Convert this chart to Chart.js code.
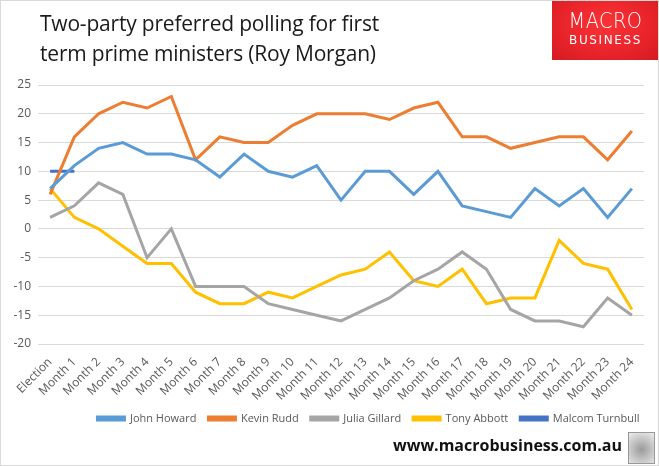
<!DOCTYPE html>
<html lang="en">
<head>
    <meta charset="UTF-8">
    <title>Two-party preferred polling</title>
    <style>
        html, body {
            margin: 0;
            padding: 0;
            background: #fff;
        }
        #frame {
            position: relative;
            width: 659px;
            height: 466px;
            box-sizing: border-box;
            border: 1px solid #d9d9d9;
            overflow: hidden;
            font-family: "Open Sans", "Noto Sans", sans-serif;
        }
        #chartBox {
            position: absolute;
            left: 0;
            top: 0;
            width: 657px;
            height: 464px;
        }
        .title {
            position: absolute;
            left: 39px;
            top: 7px;
            font-size: 21px;
            line-height: 30px;
            color: #1a1a1a;
            letter-spacing: -0.2px;
        }
        .logo {
            position: absolute;
            left: 551px;
            top: -1px;
            width: 107px;
            height: 60px;
            background: radial-gradient(ellipse at 50% 40%, #fb3336 0%, #e8232a 60%, #d41a22 100%);
            color: #fff;
            text-align: center;
            font-family: "DejaVu Sans", sans-serif;
        }
        .logo .big {
            position: absolute;
            left: 0; right: 0;
            top: 9px;
            font-size: 21px;
            font-weight: 300;
            letter-spacing: 0.5px;
            transform: scaleX(0.92);
        }
        .logo .small {
            position: absolute;
            left: 0; right: 0;
            top: 33px;
            font-size: 12px;
            letter-spacing: 1.6px;
        }
        .url {
            position: absolute;
            left: 392px;
            top: 433px;
            font-size: 16px;
            font-weight: bold;
            color: #111;
        }
        .wolf {
            position: absolute;
            left: 627px;
            top: 431px;
            width: 27px;
            height: 32px;
            box-sizing: border-box;
            border: 1px solid #999;
            background: radial-gradient(circle at 50% 55%, #9a9a9a 0%, #c8c8c8 55%, #eee 100%);
        }
    </style>
    <script src="https://cdn.jsdelivr.net/npm/chart.js"></script>
</head>
<body>
<div id="frame">
    <div id="chartBox"><canvas id="pollChart"></canvas></div>
    <div class="title">Two-party preferred polling for first<br>term prime ministers (Roy Morgan)</div>
    <div class="logo"><div class="big">MACRO</div><div class="small">BUSINESS</div></div>
    <div class="url">www.macrobusiness.com.au</div>
    <div class="wolf"></div>
</div>

<script>
    const labels = ['Election', 'Month 1', 'Month 2', 'Month 3', 'Month 4', 'Month 5', 'Month 6',
        'Month 7', 'Month 8', 'Month 9', 'Month 10', 'Month 11', 'Month 12', 'Month 13',
        'Month 14', 'Month 15', 'Month 16', 'Month 17', 'Month 18', 'Month 19', 'Month 20',
        'Month 21', 'Month 22', 'Month 23', 'Month 24'];

    const johnHoward = [7, 11, 14, 15, 13, 13, 12, 9, 13, 10, 9, 11, 5, 10, 10, 6, 10, 4, 3, 2, 7, 4, 7, 2, 7];
    const kevinRudd = [6, 16, 20, 22, 21, 23, 12, 16, 15, 15, 18, 20, 20, 20, 19, 21, 22, 16, 16, 14, 15, 16, 16, 12, 17];
    const juliaGillard = [2, 4, 8, 6, -5, 0, -10, -10, -10, -13, -14, -15, -16, -14, -12, -9, -7, -4, -7, -14, -16, -16, -17, -12, -15];
    const tonyAbbott = [7, 2, 0, -3, -6, -6, -11, -13, -13, -11, -12, -10, -8, -7, -4, -9, -10, -7, -13, -12, -12, -2, -6, -7, -14];
    const malcomTurnbull = [10, 10];

    const yTicks = { min: -20, max: 25, step: 5 };

    function series(label, data, color) {
        return {
            label: label,
            data: data,
            borderColor: color,
            backgroundColor: color,
            borderWidth: 3,
            pointRadius: 0,
            tension: 0,
            fill: false
        };
    }

    // nudge the legend right, the way the original sits off-centre
    const legendShift = {
        id: 'legendShift',
        afterLayout(chart) {
            chart.legend.left += 42;
            chart.legend.right += 42;
        }
    };

    const ctx = document.getElementById('pollChart').getContext('2d');
    new Chart(ctx, {
        type: 'line',
        data: {
            labels: labels,
            datasets: [
                series('John Howard', johnHoward, '#5B9BD5'),
                series('Kevin Rudd', kevinRudd, '#ED7D31'),
                series('Julia Gillard', juliaGillard, '#A5A5A5'),
                series('Tony Abbott', tonyAbbott, '#FFC000'),
                series('Malcom Turnbull', malcomTurnbull, '#4472C4')
            ]
        },
        options: {
            responsive: true,
            maintainAspectRatio: false,
            animation: false,
            layout: {
                padding: { top: 84, left: 8, right: 14, bottom: 31 }
            },
            plugins: {
                title: { display: false },
                tooltip: { enabled: false },
                legend: {
                    position: 'bottom',
                    labels: {
                        boxWidth: 27,
                        boxHeight: 3,
                        padding: 12,
                        color: '#595959',
                        font: { family: '"Open Sans", sans-serif', size: 11 }
                    }
                }
            },
            scales: {
                x: {
                    offset: true,
                    grid: { display: false },
                    border: { display: false },
                    afterFit(scale) { scale.height = 57; },
                    ticks: {
                        minRotation: 45,
                        maxRotation: 45,
                        autoSkip: false,
                        color: '#595959',
                        font: { family: '"Open Sans", sans-serif', size: 12 }
                    }
                },
                y: {
                    min: yTicks.min,
                    max: yTicks.max,
                    grid: { color: '#d9d9d9', drawTicks: false },
                    border: { display: false },
                    afterFit(scale) { scale.width = 29; },
                    ticks: {
                        stepSize: yTicks.step,
                        padding: 7,
                        color: '#595959',
                        font: { family: '"Open Sans", sans-serif', size: 12 }
                    }
                }
            }
        },
        plugins: [legendShift]
    });
</script>
</body>
</html>
